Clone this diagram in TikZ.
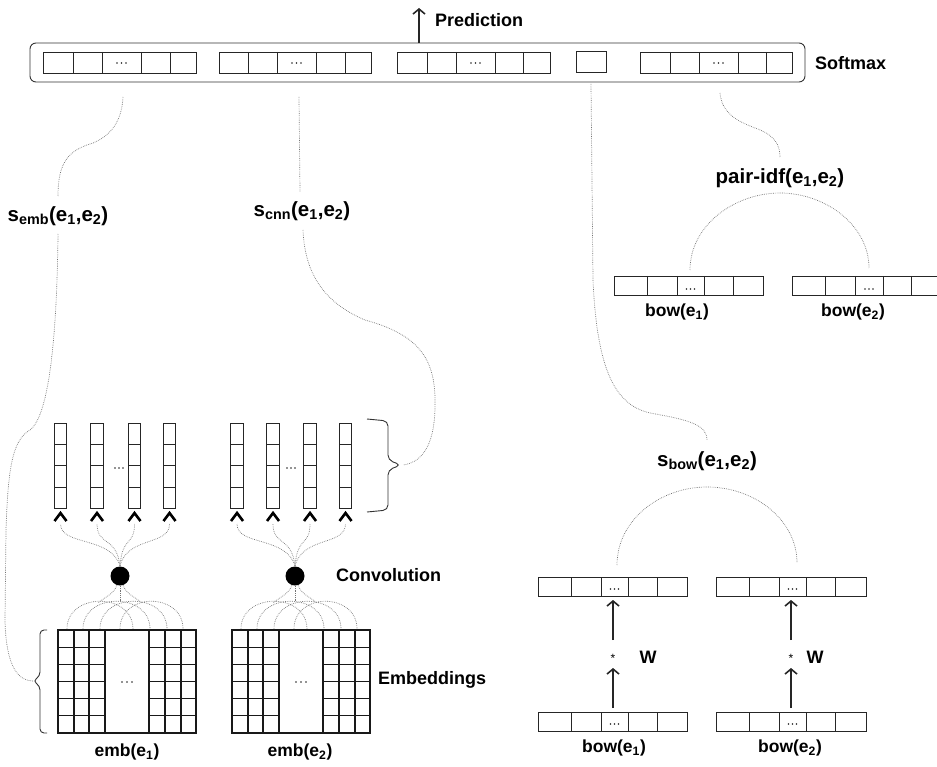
\documentclass[tikz,border=0pt]{standalone}
\usepackage{fontspec}
\setmainfont{Liberation Sans}
\usetikzlibrary{arrows.meta}
\tikzset{
  cellline/.style={draw=black!85, line width=0.8pt},
  gridline/.style={draw=black!90, line width=1.1pt},
  conn/.style={draw=black!55, line width=0.7pt, dash pattern=on 0.7pt off 1.1pt},
  lbl/.style={font=\fontsize{17.5}{20}\selectfont\bfseries, inner sep=0pt},
  bigl/.style={font=\fontsize{18}{21}\selectfont\bfseries, inner sep=0pt},
  slbl/.style={font=\fontsize{20.5}{24}\selectfont\bfseries, inner sep=0pt},
  bigarrow/.style={draw=black!85, line width=1.6pt, -{Straight Barb[length=5pt,width=12pt,line width=1.6pt]}},
  chev/.style={draw=black, line width=2.6pt},
}
\newcommand\hvec[5]{%
  \draw[cellline] (#1,#3) rectangle (#2,#4);
  \foreach \d in {#5} {\draw[cellline] (\d,#3) -- (\d,#4);}
}
\newcommand\tdots[3]{%
  \foreach \k in {-1,0,1} {\fill[black!85] (#1+\k*#3,#2) circle (0.9);}
}
\begin{document}
\begin{tikzpicture}[x=1pt,y=-1pt]
\useasboundingbox (0,0) rectangle (937,767);

% ---------- Softmax frame ----------
\draw[black!80, line width=0.9pt, rounded corners=6pt] (30,43) rectangle (805,82);
\hvec{43}{196}{52}{73}{73,102,141,170}
\tdots{121.5}{63}{4.5}
\hvec{219}{371}{52}{73}{248,277,316,345}
\tdots{296.5}{63}{4.5}
\hvec{397}{550}{52}{73}{427,456,495,523}
\tdots{475.5}{63}{4.5}
\draw[cellline] (576,51) rectangle (606,72);
\hvec{640}{792}{52}{73}{670,699,738,766}
\tdots{718.5}{63}{4.5}

\coordinate (predS) at (419,43);
\coordinate (predE) at (419,8);
\draw[bigarrow] (predS) -- (predE);
\node[bigl, anchor=west] (pred) at (435,20) {Prediction};
\node[bigl, anchor=west] (softmax) at (815,63) {Softmax};

% connector start points
\coordinate (g1) at (123,97);
\coordinate (g2) at (299,97);
\coordinate (g4) at (591,84);
\coordinate (g5) at (720,93);

% ---------- labels ----------
\node[slbl] (semb) at (58,216) {s\textsubscript{emb}(e\textsubscript{1},e\textsubscript{2})};
\node[slbl] (scnn) at (302,211) {s\textsubscript{cnn}(e\textsubscript{1},e\textsubscript{2})};
\node[slbl] (pidf) at (780,178) {pair-idf(e\textsubscript{1},e\textsubscript{2})};
\node[slbl] (sbow) at (707,461) {s\textsubscript{bow}(e\textsubscript{1},e\textsubscript{2})};

% ---------- pair-idf bows ----------
\hvec{614}{763}{276}{295}{647,677,704,733}
\tdots{690.5}{289}{4}
\hvec{792}{937}{276}{295}{825,855,883,911}
\tdots{869}{289}{4}
\node[lbl] (pb1) at (677,312) {bow(e\textsubscript{1})};
\node[lbl] (pb2) at (853,312) {bow(e\textsubscript{2})};
\coordinate (pb1t) at (690,270);
\coordinate (pb2t) at (869,268);

% ---------- s_bow part ----------
\hvec{538}{687}{577}{596}{571,601,628,657}
\tdots{614.5}{589}{4}
\hvec{716}{866}{577}{596}{749,779,806,835}
\tdots{792.5}{589}{4}
\hvec{538}{687}{712}{731}{571,601,628,657}
\tdots{614.5}{724}{4}
\hvec{716}{866}{712}{731}{749,779,806,835}
\tdots{792.5}{724}{4}
\node[lbl] (bb1) at (614,748) {bow(e\textsubscript{1})};
\node[lbl] (bb2) at (790,748) {bow(e\textsubscript{2})};
\node[inner sep=0pt, font=\fontsize{12}{12}\selectfont] (st1) at (613,658) {*};
\node[inner sep=0pt, font=\fontsize{12}{12}\selectfont] (st2) at (791,658) {*};
\node[bigl] (w1) at (648,657) {W};
\node[bigl] (w2) at (815,657) {W};
\coordinate (a1s) at (613,708); \coordinate (a1e) at (613,668);
\coordinate (a2s) at (613,640); \coordinate (a2e) at (613,600);
\coordinate (a3s) at (791,708); \coordinate (a3e) at (791,668);
\coordinate (a4s) at (791,640); \coordinate (a4e) at (791,600);
\draw[bigarrow] (a1s) -- (a1e);
\draw[bigarrow] (a2s) -- (a2e);
\draw[bigarrow] (a3s) -- (a3e);
\draw[bigarrow] (a4s) -- (a4e);
\coordinate (tb1) at (617,565);
\coordinate (tb2) at (797,563);

% ---------- CNN feature columns ----------
\foreach \cx in {60.5,97,134.5,169.5,237,273,310,345.5} {
  \draw[cellline, line width=0.9pt] (\cx-6.3,423) rectangle (\cx+6.3,508);
  \foreach \ry in {444,465.5,487} {\draw[cellline, line width=0.9pt] (\cx-6.3,\ry) -- (\cx+6.3,\ry);}
  \draw[chev] (\cx-6,521) -- (\cx,513) -- (\cx+6,521);
}
\tdots{119}{468}{4}
\tdots{291}{468}{4}

% right brace
\draw[black!80, line width=0.9pt, rounded corners=5pt] (367,419) -- (388,421) -- (388,460) -- (401,465) -- (388,470) -- (388,510) -- (367,512);
\coordinate (brR) at (403,465);

% ---------- convolution dots ----------
\fill[black] (120,576) circle (9.5);
\fill[black] (295,576) circle (9.5);
\node[bigl, anchor=west] (conv) at (336,575) {Convolution};

\foreach \dx/\ccs in {120/{60.5,97,134.5,169.5}, 295/{237,273,310,345.5}} {
  \foreach \cc in \ccs {
    \draw[conn] (\dx,566) .. controls (\dx+0.15*\cc-0.15*\dx,536) and (\cc,546) .. (\cc,524);
  }
}

% ---------- embeddings ----------
\foreach \gx/\dx in {58/120, 232/295} {
  \draw[gridline] (\gx,630) rectangle (\gx+138,733);
  \foreach \k in {1,...,5} {
    \draw[gridline] (\gx,630+\k*17.17) -- (\gx+47,630+\k*17.17);
    \draw[gridline] (\gx+91,630+\k*17.17) -- (\gx+138,630+\k*17.17);
  }
  \foreach \vx in {16,31,47,91,107,123} {\draw[gridline] (\gx+\vx,630) -- (\gx+\vx,733);}
  \tdots{\gx+69}{682}{5}
  \foreach \a/\b in {9/75, 25/92, 42/109, 62/125} {
    \draw[conn] (\gx+\a,629) .. controls (\gx+\a,592) and (\gx+\b,592) .. (\gx+\b,629);
  }
  \draw[conn] (\dx-3,585) .. controls (\dx-6,594) and (\dx-15,597) .. (\dx-22,603);
  \draw[conn] (\dx,586) -- (\dx,601);
  \draw[conn] (\dx+3,585) .. controls (\dx+6,594) and (\dx+15,597) .. (\dx+22,603);
}
\node[lbl] (emb1) at (127,752) {emb(e\textsubscript{1})};
\node[lbl] (emb2) at (300,752) {emb(e\textsubscript{2})};
\node[bigl, anchor=west] (embs) at (378,680) {Embeddings};

% left brace
\draw[black!80, line width=0.9pt, rounded corners=4pt] (47,630) -- (40,630) -- (40,676) -- (33,681) -- (40,686) -- (40,733) -- (47,733);
\coordinate (brL) at (33,681);

% ---------- dotted connectors ----------
\draw[conn] (g1) .. controls (122,120) and (112,135) .. (93,143) .. controls (70,150) and (58,160) .. (58,196);
\draw[conn] (58,234) .. controls (57,330) and (50,415) .. (30,430) .. controls (12,440) and (8,470) .. (6,530) -- (5,620) .. controls (6,670) and (20,681) .. (brL);
\draw[conn] (g2) -- (300,192);
\draw[conn] (303,230) .. controls (305,280) and (330,305) .. (365,320) .. controls (420,335) and (436,360) .. (435,405) .. controls (435,440) and (425,462) .. (brR);
\draw[conn] (g4) -- (593,280) .. controls (597,370) and (615,405) .. (650,413) .. controls (690,420) and (707,425) .. (707,440);
\draw[conn] (g5) .. controls (722,115) and (740,122) .. (755,128) .. controls (775,135) and (780,145) .. (780,157);
\draw[conn] (pb1t) .. controls (690,225) and (735,193) .. (780,193) .. controls (825,193) and (869,225) .. (pb2t);
\draw[conn] (tb1) .. controls (617,520) and (660,487) .. (707,487) .. controls (755,487) and (797,520) .. (tb2);
\end{tikzpicture}
\end{document}
